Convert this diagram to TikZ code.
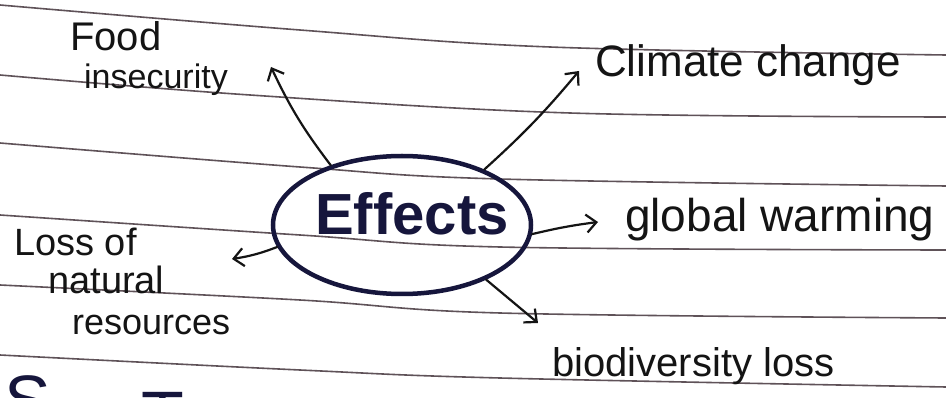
\documentclass[tikz,border=0pt]{standalone}
\usepackage{fontspec}
\setmainfont{Liberation Sans}
\usetikzlibrary{shapes.geometric,arrows.meta}
\definecolor{rule}{RGB}{95,82,88}
\definecolor{ink}{RGB}{20,20,20}
\definecolor{navy}{RGB}{22,22,60}
\tikzset{
  ruleline/.style={draw=rule,line width=1.6pt},
  hand/.style={text=ink,inner sep=0pt,align=left},
  conn/.style={draw=ink,line width=2.2pt,line cap=round,-{Straight Barb[length=10pt,width=18pt,line width=2.2pt]}},
}
\begin{document}
\begin{tikzpicture}[x=1pt,y=-1pt]
\useasboundingbox (0,0) rectangle (946,398);
\clip (0,0) rectangle (946,398);
\fill[white] (0,0) rectangle (946,398);
% ruled lines
\draw[ruleline] plot[smooth,tension=0.6] coordinates {(0,5) (300,30) (550,47) (946,55)};
\draw[ruleline] plot[smooth,tension=0.6] coordinates {(0,75) (250,95) (570,113) (946,117)};
\draw[ruleline] plot[smooth,tension=0.6] coordinates {(0,143) (300,167) (500,179) (946,186)};
\draw[ruleline] plot[smooth,tension=0.6] coordinates {(0,215) (300,235) (500,247) (946,250)};
\draw[ruleline] plot[smooth,tension=0.6] coordinates {(0,285) (300,300) (500,313) (946,318)};
\draw[ruleline] plot[smooth,tension=0.6] coordinates {(0,355) (300,370) (500,378) (946,387)};
% centre
\node[ellipse,draw=navy,line width=4.5pt,minimum width=258pt,minimum height=138pt,inner sep=0pt] (eff) at (402,225) {};
\node[text=navy,inner sep=0pt,font=\bfseries\fontsize{58}{60}\selectfont] (efftext) at (412,214) {Effects};
% labels
\node[hand,anchor=north west,font=\fontsize{40}{38}\selectfont] (food) at (70,21) {Food\\\hspace*{14pt}{\fontsize{34}{38}\selectfont insecurity}};
\node[hand,anchor=west,font=\fontsize{44}{44}\selectfont] (climate) at (595,65) {Climate change};
\node[hand,anchor=west,font=\fontsize{46}{46}\selectfont] (global) at (625,220) {global warming};
\node[hand,anchor=north west,font=\fontsize{38}{38}\selectfont] (loss) at (14,228) {Loss of\\\hspace*{34pt}natural\\[3pt]\hspace*{58pt}{\fontsize{36}{38}\selectfont resources}};
\node[hand,anchor=west,font=\fontsize{40}{40}\selectfont] (bio) at (552,366) {biodiversity loss};
% partial next-line letters
\node[text=navy,inner sep=0pt,anchor=base,font=\fontsize{70}{70}\selectfont] (nextS) at (28,424) {S};
\node[text=navy,inner sep=0pt,anchor=base,font=\fontsize{70}{70}\selectfont] (nextT) at (163,440) {T};
% arrow ends
\coordinate (foodtip) at (271,67);
\coordinate (climtip) at (579,71);
\coordinate (globtip) at (598,222);
\coordinate (losstip) at (232,259);
\coordinate (biotip) at (538,323);
% connectors
\draw[conn] (eff.140) to[bend left=6] (foodtip);
\draw[conn] (eff.34) to[bend right=4] (climtip);
\draw[conn] (eff.-4) to[bend left=3] (globtip);
\draw[conn] (eff.190) to[bend left=6] (losstip);
\draw[conn] (eff.-33) -- (biotip);
\end{tikzpicture}
\end{document}
